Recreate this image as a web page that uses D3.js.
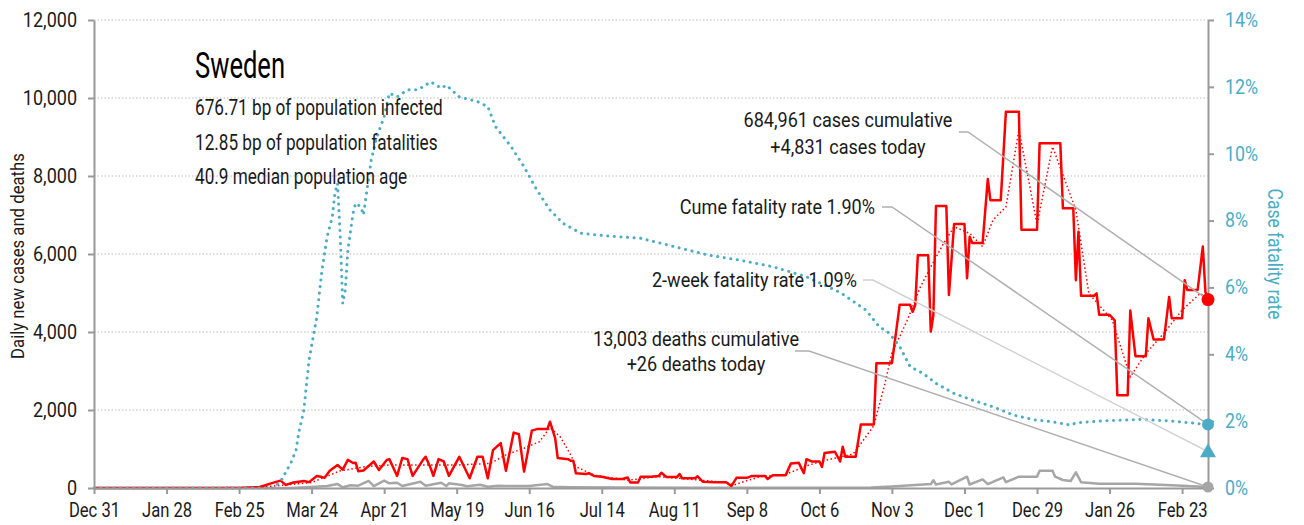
<!DOCTYPE html>
<html>
<head>
<meta charset="utf-8">
<script src="https://cdn.jsdelivr.net/npm/d3@7"></script>
<style>
  body { margin: 0; background: #fff; }
  svg text { font-family: Roboto, 'DejaVu Sans Condensed', sans-serif; }
</style>
</head>
<body>
<div id="chart"></div>
<script>
// Days are counted from Dec 31, 2019
const startDate = new Date(2019, 11, 31);
const lastDay = 430;

// Daily new cases [day, cases]
const dailyCases = [
  [0,0],[37,0],[56,0],[64,25],[69,130],[72,190],[74,80],[77,140],[81,180],[83,150],
  [86,310],[88,280],[89,260],[91,440],[94,590],[96,470],[98,720],[100,640],[101,650],[102,430],
  [104,450],[108,680],[110,460],[113,720],[114,740],[117,310],[119,770],[121,740],[123,310],[127,720],
  [128,800],[130,500],[131,310],[133,740],[135,680],[137,310],[141,800],[145,250],[148,800],[150,800],
  [152,250],[154,970],[157,1150],[159,440],[162,1420],[164,1380],[166,420],[169,1470],[171,1510],[175,1510],
  [176,1700],[178,1280],[179,770],[183,740],[184,700],[185,700],[186,380],[190,360],[191,380],[193,310],
  [196,290],[200,230],[204,230],[206,270],[207,140],[210,140],[211,290],[215,290],[218,310],[219,390],
  [221,280],[225,280],[226,360],[227,250],[232,250],[233,300],[235,160],[240,150],[244,150],[246,50],
  [248,260],[252,260],[254,310],[259,310],[260,230],[262,330],[267,330],[269,630],[272,650],[274,380],
  [275,740],[277,680],[280,680],[281,540],[282,900],[286,930],[288,680],[289,1060],[290,800],[294,800],
  [296,1630],[301,1630],[302,3200],[308,3200],[311,4700],[315,4700],[316,4520],[317,4700],[318,5970],[322,5970],
  [323,4010],[324,4440],[325,7230],[329,7230],[330,4950],[332,6770],[336,6770],[337,5380],[338,6440],[339,6280],
  [343,6280],[345,7920],[346,7380],[350,7380],[352,9650],[357,9650],[358,6620],[364,6620],[365,8840],[373,8840],
  [374,7170],[378,7170],[379,5330],[380,6570],[381,4930],[386,4930],[387,4990],[388,4440],[392,4440],[394,4300],
  [395,2380],[399,2380],[400,4550],[402,3380],[406,3380],[407,4350],[409,3810],[413,3810],[415,4900],[416,4350],
  [420,4350],[421,5330],[422,5080],[426,5080],[428,6190],[429,5030],[430,4831]
];

// 7-day average of new cases [day, cases]
const avgCases = [
  [0,0],[37,0],[64,20],[84,140],[95,440],[105,550],[114,590],[127,590],[140,590],[153,630],
  [159,850],[166,1020],[172,1190],[176,1550],[180,1310],[184,850],[186,550],[193,330],[206,200],[218,290],
  [231,220],[244,140],[247,80],[257,290],[267,350],[276,590],[283,720],[293,870],[297,1230],[301,1600],
  [305,2600],[308,3460],[314,4310],[319,5160],[323,5670],[328,6280],[332,6700],[338,6530],[343,6190],[347,6870],
  [352,7210],[357,9180],[361,7810],[364,6750],[370,8750],[379,7130],[384,4990],[393,4310],[400,2850],[406,3450],
  [413,3970],[420,4560],[427,4990],[430,4831]
];

// Daily deaths [day, deaths]
const dailyDeaths = [
  [0,0],[76,0],[82,18],[90,50],[94,100],[96,20],[99,70],[102,60],[106,180],[108,50],
  [112,190],[114,120],[117,135],[119,50],[126,160],[128,60],[134,135],[136,50],[137,120],[142,77],
  [144,44],[149,85],[152,33],[156,60],[159,50],[168,50],[175,100],[177,33],[184,20],[203,10],
  [234,5],[272,5],[300,10],[308,40],[323,100],[324,200],[325,90],[330,160],[331,90],[337,290],
  [338,90],[343,220],[345,100],[351,270],[352,150],[357,290],[364,290],[365,440],[370,440],[371,290],
  [374,205],[377,180],[379,400],[381,150],[388,110],[402,110],[416,70],[430,26]
];

// Case fatality rate, percent [day, pct]
const fatalityRate = [
  [0,0],[69,0],[72,0.19],[76,0.75],[78,1.14],[79,1.64],[81,2.33],[83,3.83],[86,5.12],[88,6.52],
  [90,7.52],[92,8.12],[93,8.82],[94,9.11],[95,7.6],[96,5.52],[97,5.92],[98,7.12],[100,8.22],[101,8.52],
  [103,8.41],[104,8.17],[105,8.71],[107,9.81],[109,10.46],[112,11.11],[114,11.81],[117,11.70],[121,11.91],[125,11.91],
  [130,12.15],[134,11.96],[136,12.05],[141,11.70],[148,11.56],[152,11.41],[155,10.81],[161,10.21],[166,9.61],[171,8.91],
  [176,8.32],[181,7.92],[188,7.62],[198,7.54],[211,7.47],[224,7.22],[237,6.97],[249,6.82],[262,6.62],[275,6.32],
  [288,5.85],[298,5.32],[303,4.83],[307,4.63],[311,4.23],[315,3.63],[320,3.43],[325,3.13],[332,2.83],[339,2.63],
  [347,2.43],[355,2.18],[363,2.04],[370,1.98],[377,1.88],[379,1.95],[390,2.01],[403,2.05],[415,2.01],[430,1.90]
];

const xTickLabels = ["Dec 31","Jan 28","Feb 25","Mar 24","Apr 21","May 19","Jun 16","Jul 14",
  "Aug 11","Sep 8","Oct 6","Nov 3","Dec 1","Dec 29","Jan 26","Feb 23"];
const yTicks = [0, 2000, 4000, 6000, 8000, 10000, 12000];
const rateTicks = [0, 2, 4, 6, 8, 10, 12, 14];

const titleLines = ["676.71 bp of population infected", "12.85 bp of population fatalities", "40.9 median population age"];
const twoWeekRate = 1.09;

const W = 1304, H = 525;
const plot = { left: 94, right: 1208, top: 20, bottom: 488 };
const blue = "#4bacc6", red = "#ff0000", grey = "#a6a6a6", axisGrey = "#999";

const dayDate = d => d3.timeDay.offset(startDate, d);

// squeeze text horizontally, the original uses a condensed face
function condense(sel, k) {
  sel.each(function () {
    const len = this.getComputedTextLength();
    d3.select(this).attr("textLength", len * k).attr("lengthAdjust", "spacingAndGlyphs");
  });
}

const svg = d3.select("#chart").append("svg")
  .attr("width", W).attr("height", H);

const x = d3.scaleTime().domain([startDate, dayDate(lastDay)]).range([plot.left, plot.right]);
const y = d3.scaleLinear().domain([0, 12000]).range([plot.bottom, plot.top]);
const yRate = d3.scaleLinear().domain([0, 14]).range([plot.bottom, plot.top]);

// gridlines
svg.append("g").selectAll("line")
  .data(yTicks.filter(d => d > 0))
  .join("line")
  .attr("x1", plot.left).attr("x2", plot.right)
  .attr("y1", d => y(d)).attr("y2", d => y(d))
  .attr("stroke", "#bdbdbd").attr("stroke-width", 1).attr("stroke-dasharray", "1.5,2");

const line = d3.line().x(d => x(dayDate(d[0]))).y(d => y(d[1]));
const rateLine = d3.line().x(d => x(dayDate(d[0]))).y(d => yRate(d[1]));

svg.append("path").datum(dailyDeaths).attr("d", line)
  .attr("fill", "none").attr("stroke", grey).attr("stroke-width", 2.5).attr("stroke-linejoin", "round");

svg.append("path").datum(dailyCases).attr("d", line)
  .attr("fill", "none").attr("stroke", red).attr("stroke-width", 2.5).attr("stroke-linejoin", "round");

svg.append("path").datum(avgCases).attr("d", line)
  .attr("fill", "none").attr("stroke", red).attr("stroke-width", 1.5).attr("stroke-dasharray", "1.5,2.5");

svg.append("path").datum(fatalityRate).attr("d", rateLine)
  .attr("fill", "none").attr("stroke", blue).attr("stroke-width", 3)
  .attr("stroke-linecap", "round").attr("stroke-dasharray", "0.1,6.5");

// axes
const tickDays = xTickLabels.map((_, i) => i * 28);

const xAxis = svg.append("g")
  .attr("transform", `translate(0,${plot.bottom})`)
  .call(d3.axisBottom(x).tickValues(tickDays.map(dayDate))
    .tickFormat((d, i) => xTickLabels[i]).tickSize(6).tickSizeOuter(0).tickPadding(9));

const yAxis = svg.append("g")
  .attr("transform", `translate(${plot.left},0)`)
  .call(d3.axisLeft(y).tickValues(yTicks).tickFormat(d3.format(",")).tickSize(6).tickSizeOuter(0).tickPadding(11));

const rAxis = svg.append("g")
  .attr("transform", `translate(${plot.right},0)`)
  .call(d3.axisRight(yRate).tickValues(rateTicks).tickFormat(d => d + "%").tickSize(6).tickSizeOuter(0).tickPadding(11));

[xAxis, yAxis, rAxis].forEach(g => {
  g.select(".domain").attr("stroke", axisGrey).attr("stroke-width", 2);
  g.selectAll(".tick line").attr("stroke", axisGrey).attr("stroke-width", 2);
  g.selectAll("text").attr("font-size", 20).attr("fill", "#1a1a1a").attr("font-family", null);
});
rAxis.selectAll("text").attr("fill", blue);
condense(xAxis.selectAll("text"), 0.83);
condense(yAxis.selectAll("text"), 0.9);
condense(rAxis.selectAll("text"), 0.89);

svg.append("text")
  .attr("transform", `translate(24,${(plot.top + plot.bottom) / 2 + 2}) rotate(-90)`)
  .attr("text-anchor", "middle").attr("font-size", 19).attr("fill", "#1a1a1a")
  .text("Daily new cases and deaths")
  .call(condense, 0.88);

svg.append("text")
  .attr("transform", `translate(1268,${(plot.top + plot.bottom) / 2}) rotate(90)`)
  .attr("text-anchor", "middle").attr("font-size", 21).attr("fill", blue)
  .text("Case fatality rate")
  .call(condense, 0.83);

// title block
svg.append("text").attr("x", 195).attr("y", 78)
  .attr("font-size", 36).attr("fill", "#000").text("Sweden")
  .call(condense, 0.71);
svg.append("g").selectAll("text")
  .data(titleLines).join("text")
  .attr("x", 195).attr("y", (d, i) => 115 + i * 34.5)
  .attr("font-size", 22).attr("fill", "#1a1a1a").text(d => d)
  .call(condense, 0.78);

// annotations with leader lines to the end markers
const lastCases = dailyCases[dailyCases.length - 1][1];
const lastDeaths = dailyDeaths[dailyDeaths.length - 1][1];
const lastRate = fatalityRate[fatalityRate.length - 1][1];

const leaders = [
  { x0: 959, x1: 968, y0: 132, yEnd: y(lastCases), color: "#b0b0b0" },
  { x0: 882, x1: 892, y0: 207, yEnd: yRate(lastRate), color: "#b0b0b0" },
  { x0: 863, x1: 873, y0: 280, yEnd: yRate(twoWeekRate), color: "#d0d0d0" },
  { x0: 795, x1: 809, y0: 351, yEnd: y(lastDeaths), color: "#b0b0b0" }
];
svg.append("g").selectAll("path")
  .data(leaders).join("path")
  .attr("d", d => `M${d.x0},${d.y0}L${d.x1},${d.y0}L${plot.right},${d.yEnd}`)
  .attr("fill", "none").attr("stroke", d => d.color).attr("stroke-width", 1.5);

const annos = [
  { x: 848, y: 127, anchor: "middle", text: d3.format(",")(684961) + " cases cumulative" },
  { x: 848, y: 154, anchor: "middle", text: "+" + d3.format(",")(lastCases) + " cases today" },
  { x: 875, y: 214, anchor: "end", text: "Cume fatality rate " + lastRate.toFixed(2) + "%" },
  { x: 857, y: 287, anchor: "end", text: "2-week fatality rate " + twoWeekRate.toFixed(2) + "%" },
  { x: 696, y: 346, anchor: "middle", text: d3.format(",")(13003) + " deaths cumulative" },
  { x: 696, y: 371, anchor: "middle", text: "+" + lastDeaths + " deaths today" }
];
svg.append("g").selectAll("text")
  .data(annos).join("text")
  .attr("x", d => d.x).attr("y", d => d.y).attr("text-anchor", d => d.anchor)
  .attr("font-size", 21).attr("fill", "#1a1a1a").text(d => d.text)
  .call(condense, 0.86);

// end markers
svg.append("circle").attr("cx", plot.right).attr("cy", y(lastDeaths)).attr("r", 5.5).attr("fill", "#a6a6a6");
svg.append("circle").attr("cx", plot.right).attr("cy", y(lastCases)).attr("r", 6.5).attr("fill", red);
svg.append("circle").attr("cx", plot.right).attr("cy", yRate(lastRate)).attr("r", 6).attr("fill", blue);
svg.append("path")
  .attr("transform", `translate(${plot.right},${yRate(twoWeekRate) + 1})`)
  .attr("d", d3.symbol(d3.symbolTriangle, 110)())
  .attr("fill", blue);
</script>
</body>
</html>
